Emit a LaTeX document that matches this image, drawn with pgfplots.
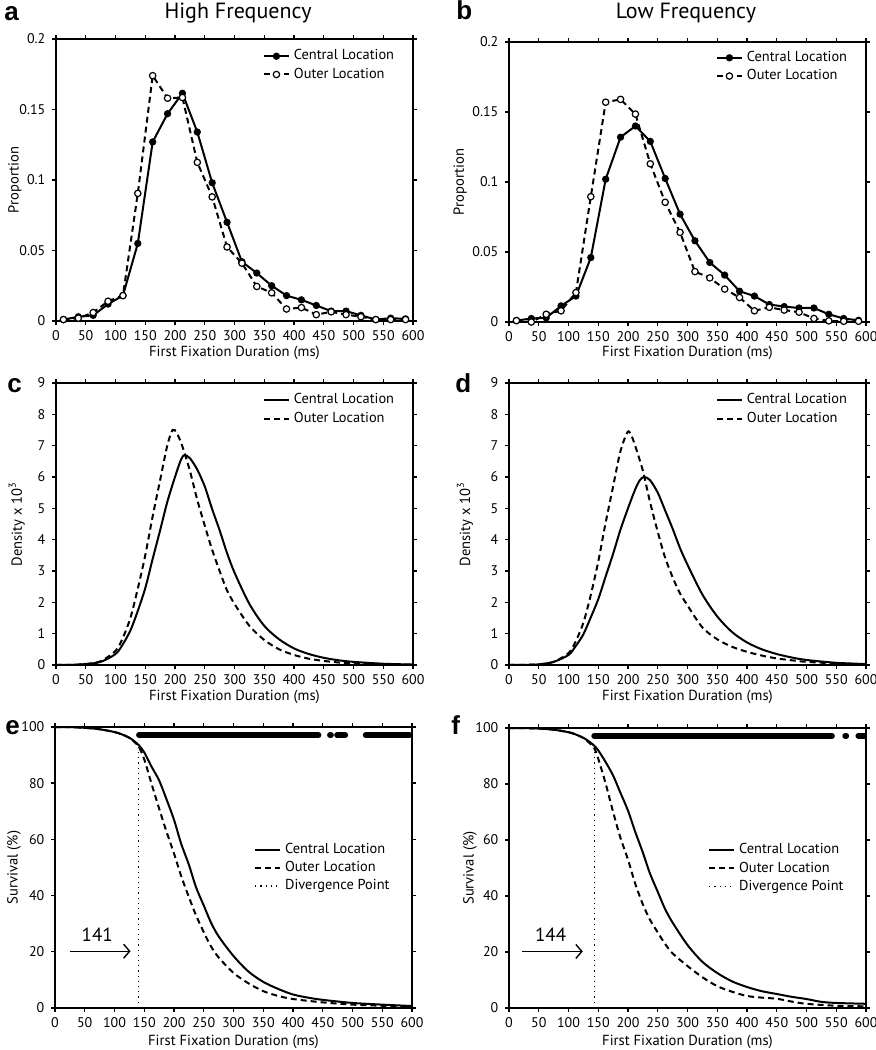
\documentclass[border=0pt]{standalone}
\usepackage{fontspec}
\setmainfont{PT Sans}
\newfontfamily\letterfont{Liberation Sans}
\usepackage{pgfplots}
\pgfplotsset{compat=1.18}
\usetikzlibrary{arrows.meta}

\pgfplotsset{
  panel/.style={
    scale only axis, width=178.5pt, height=141pt,
    xmin=0, xmax=600, xtick={0,50,...,600},
    axis line style={line width=0.9pt},
    tick style={line width=0.7pt, black},
    tick align=outside,
    major tick length=1.8pt,
    tick label style={font=\fontsize{7}{8}\selectfont},
    xticklabel style={yshift=0.5pt},
    label style={font=\fontsize{7.3}{8}\selectfont},
    /pgf/number format/assume math mode=true,
    xlabel={First Fixation Duration (ms)},
    xlabel style={at={(axis description cs:0.5,-0.112)}, anchor=center},
    legend cell align=left,
    legend style={draw=none, fill=none, font=\fontsize{7.2}{8}\selectfont,
      inner sep=1pt, row sep=-1.5pt},
  },
  cen/.style={black, line width=1pt},
  out/.style={black, line width=1pt, dash pattern=on 3pt off 2pt},
  sig/.style={black, line width=2.8pt, line cap=round, forget plot},
}
\tikzset{letter/.style={font=\fontsize{13}{15}\selectfont\letterfont\bfseries, anchor=base west, inner sep=0pt}}
\newcommand{\lineimg}{\pgfplotsset{legend image code/.code={\draw[##1] (0pt,0pt) -- (12.5pt,0pt);}}}
\newcommand{\markimg}{\pgfplotsset{legend image code/.code={\draw[mark repeat=2,mark phase=2,##1] plot coordinates {(0pt,0pt) (6.25pt,0pt) (12.5pt,0pt)};}}}

\begin{document}
\begin{tikzpicture}
\useasboundingbox (0,0) rectangle (438pt,525pt);

% panel letters and titles
\node[letter] at (2pt,514.5pt) {a};
\node[letter] at (228pt,515pt) {b};
\node[letter] at (3.5pt,328.5pt) {c};
\node[letter] at (227.5pt,328.5pt) {d};
\node[letter] at (2.5pt,157.5pt) {e};
\node[letter] at (225.5pt,157.5pt) {f};
\node[font=\fontsize{11}{12}\selectfont, anchor=base] at (119pt,515.5pt) {High Frequency};
\node[font=\fontsize{11}{12}\selectfont, anchor=base] at (343pt,515.5pt) {Low Frequency};

% ---------------- a ----------------
\begin{axis}[panel, at={(28pt,505.5pt)}, anchor=north west,
  ymin=0, ymax=0.2, ytick={0,0.05,0.1,0.15,0.2}, yticklabels={0,0.05,0.1,0.15,0.2},
  ylabel={Proportion}, ylabel style={at={(axis description cs:-0.115,0.5)}, anchor=center},
  legend style={at={(0.965,0.985)}, anchor=north east}]
\markimg
\addplot[cen, mark=*, mark size=1.3pt] coordinates {
(12.5,0.001)(37.5,0.003)(62.5,0.004)(87.5,0.012)(112.5,0.018)(137.5,0.055)(162.5,0.127)(187.5,0.147)(212.5,0.1615)(237.5,0.134)(262.5,0.098)(287.5,0.070)(312.5,0.042)(337.5,0.034)(362.5,0.025)(387.5,0.018)(412.5,0.015)(437.5,0.011)(462.5,0.007)(487.5,0.007)(512.5,0.004)(537.5,0.001)(562.5,0.002)(587.5,0.0015)};
\addlegendentry{Central Location}
\addplot[out, mark=*, mark size=1.6pt, mark options={solid, fill=white, draw=black, line width=0.6pt}] coordinates {
(12.5,0.001)(37.5,0.002)(62.5,0.006)(87.5,0.014)(112.5,0.018)(137.5,0.0905)(162.5,0.174)(187.5,0.158)(212.5,0.1585)(237.5,0.1125)(262.5,0.088)(287.5,0.0525)(312.5,0.041)(337.5,0.0245)(362.5,0.020)(387.5,0.0085)(412.5,0.0095)(437.5,0.0045)(462.5,0.0065)(487.5,0.0045)(512.5,0.003)(537.5,0.001)(562.5,0.001)(587.5,0.001)};
\addlegendentry{Outer Location}
\end{axis}

% ---------------- b ----------------
\begin{axis}[panel, at={(254.5pt,504pt)}, anchor=north west, height=140pt,
  ymin=0, ymax=0.2, ytick={0,0.05,0.1,0.15,0.2}, yticklabels={0,0.05,0.1,0.15,0.2},
  ylabel={Proportion}, ylabel style={at={(axis description cs:-0.137,0.5)}, anchor=center},
  legend style={at={(0.965,0.99)}, anchor=north east}]
\markimg
\addplot[cen, mark=*, mark size=1.3pt] coordinates {
(12.5,0.001)(37.5,0.0025)(62.5,0.003)(87.5,0.0115)(112.5,0.0185)(137.5,0.046)(162.5,0.102)(187.5,0.132)(212.5,0.140)(237.5,0.129)(262.5,0.1025)(287.5,0.077)(312.5,0.058)(337.5,0.0425)(362.5,0.0335)(387.5,0.022)(412.5,0.0185)(437.5,0.0125)(462.5,0.011)(487.5,0.010)(512.5,0.010)(537.5,0.0055)(562.5,0.0025)(587.5,0.0012)};
\addlegendentry{Central Location}
\addplot[out, mark=*, mark size=1.6pt, mark options={solid, fill=white, draw=black, line width=0.6pt}] coordinates {
(12.5,0.001)(37.5,0.0)(62.5,0.0055)(87.5,0.008)(112.5,0.021)(137.5,0.0895)(162.5,0.157)(187.5,0.159)(212.5,0.1485)(237.5,0.113)(262.5,0.0855)(287.5,0.064)(312.5,0.036)(337.5,0.0315)(362.5,0.0235)(387.5,0.0175)(412.5,0.008)(437.5,0.0105)(462.5,0.0085)(487.5,0.007)(512.5,0.0025)(537.5,0.0008)(562.5,0.0005)(587.5,0.0005)};
\addlegendentry{Outer Location}
\end{axis}

% ---------------- c ----------------
\begin{axis}[panel, at={(28pt,333.5pt)}, anchor=north west,
  ymin=0, ymax=9, ytick={0,1,...,9},
  ylabel={Density x 10\textsuperscript{3}}, ylabel style={at={(axis description cs:-0.11,0.5)}, anchor=center},
  legend style={at={(0.965,0.985)}, anchor=north east}]
\lineimg
\addplot[cen, smooth] coordinates {
(0,0)(25,0.005)(50,0.03)(75,0.10)(100,0.35)(112,0.65)(125,1.1)(137,1.7)(150,2.45)(162,3.35)(175,4.3)(187,5.2)(200,6.0)(210,6.55)(216,6.70)(225,6.6)(237,6.25)(250,5.7)(262,5.0)(275,4.3)(287,3.6)(300,2.95)(325,1.95)(350,1.25)(375,0.82)(400,0.53)(425,0.35)(450,0.23)(475,0.15)(500,0.10)(550,0.04)(600,0.015)};
\addlegendentry{Central Location}
\addplot[out, smooth] coordinates {
(0,0)(25,0.005)(50,0.03)(75,0.12)(100,0.45)(112,0.85)(125,1.5)(137,2.4)(150,3.5)(162,4.7)(175,5.9)(187,7.0)(196,7.5)(203,7.4)(212,7.0)(225,6.2)(237,5.3)(250,4.45)(262,3.7)(275,3.0)(287,2.4)(300,1.95)(325,1.25)(350,0.8)(375,0.5)(400,0.32)(425,0.2)(450,0.13)(475,0.08)(500,0.05)(550,0.02)(600,0.008)};
\addlegendentry{Outer Location}
\end{axis}

% ---------------- d ----------------
\begin{axis}[panel, at={(254.5pt,333.5pt)}, anchor=north west,
  ymin=0, ymax=9, ytick={0,1,...,9},
  ylabel={Density x 10\textsuperscript{3}}, ylabel style={at={(axis description cs:-0.123,0.5)}, anchor=center},
  legend style={at={(0.965,0.985)}, anchor=north east}]
\lineimg
\addplot[cen, smooth] coordinates {
(0,0)(25,0.005)(50,0.02)(75,0.1)(100,0.32)(112,0.6)(125,0.98)(137,1.5)(150,2.1)(162,2.8)(175,3.55)(187,4.3)(200,5.0)(212,5.6)(220,5.9)(227,6.0)(237,5.9)(250,5.5)(262,4.95)(275,4.35)(287,3.75)(300,3.2)(325,2.25)(350,1.55)(375,1.05)(400,0.72)(425,0.5)(450,0.35)(475,0.24)(500,0.16)(550,0.07)(600,0.03)};
\addlegendentry{Central Location}
\addplot[out, smooth] coordinates {
(0,0)(25,0.005)(50,0.02)(75,0.1)(100,0.38)(112,0.75)(125,1.35)(137,2.2)(150,3.3)(162,4.5)(175,5.7)(187,6.8)(199,7.43)(205,7.35)(212,7.0)(225,6.2)(237,5.2)(250,4.25)(262,3.45)(275,2.8)(287,2.3)(300,1.9)(325,1.2)(350,0.82)(375,0.58)(400,0.42)(425,0.3)(450,0.21)(475,0.15)(500,0.1)(550,0.05)(600,0.02)};
\addlegendentry{Outer Location}
\end{axis}

% ---------------- e ----------------
\begin{axis}[panel, at={(27.5pt,161.5pt)}, anchor=north west, height=140.5pt,
  ymin=0, ymax=100, ytick={0,20,...,100},
  xlabel style={at={(axis description cs:0.5,-0.12)}, anchor=center},
  ylabel={Survival (\%)}, ylabel style={at={(axis description cs:-0.115,0.5)}, anchor=center},
  legend style={at={(0.955,0.61)}, anchor=north east}]
\lineimg
\addplot[cen, smooth] coordinates {
(0,100)(25,99.95)(50,99.7)(75,99.2)(100,98.2)(112,97.4)(125,96.2)(137,94.3)(141,93.5)(150,91)(162,86)(175,81)(187,74.5)(200,67)(212,58.5)(225,51)(237,43)(250,36.5)(262,30.5)(275,25.5)(300,18.5)(325,13)(350,9.3)(375,6.8)(400,4.8)(425,3.7)(450,2.9)(500,1.8)(550,1.2)(600,0.7)};
\addlegendentry{Central Location}
\addplot[out, smooth] coordinates {
(0,100)(25,99.95)(50,99.7)(75,99.2)(100,98.2)(112,97.4)(125,96.1)(137,94)(141,93)(150,88.5)(162,80)(175,71)(187,63)(200,55)(212,47)(225,39.5)(237,33)(250,27)(262,22)(275,18)(300,12.5)(325,8.8)(350,6)(375,4.3)(400,3.2)(450,2)(500,1.2)(550,0.8)(600,0.4)};
\addlegendentry{Outer Location}
\addplot[black, line width=0.6pt, dotted] coordinates {(141,0)(141,93.5)};
\addlegendentry{Divergence Point}
\addplot[sig] coordinates {(141,97.1)(443,97.1)};
\addplot[sig] coordinates {(462,97.1)(464,97.1)};
\addplot[sig] coordinates {(474,97.1)(488,97.1)};
\addplot[sig] coordinates {(522,97.1)(596,97.1)};
\draw[line width=0.7pt, -{Straight Barb[length=3pt,width=7pt]}] (axis cs:26,20.2) -- (axis cs:127,20.2);
\node[font=\fontsize{9.5}{11}\selectfont] at (axis cs:71,26) {141};
\end{axis}

% ---------------- f ----------------
\begin{axis}[panel, at={(254.5pt,161pt)}, anchor=north west, height=140pt,
  ymin=0, ymax=100, ytick={0,20,...,100},
  xlabel style={at={(axis description cs:0.5,-0.12)}, anchor=center},
  ylabel={Survival (\%)}, ylabel style={at={(axis description cs:-0.109,0.5)}, anchor=center},
  legend style={at={(0.955,0.61)}, anchor=north east}]
\lineimg
\addplot[cen, smooth] coordinates {
(0,100)(25,99.95)(50,99.8)(75,99.4)(100,98.5)(112,97.7)(125,96.5)(137,94.8)(144,93.5)(150,92)(162,88)(175,83)(187,77)(200,70.5)(212,63)(225,55.5)(237,48)(250,41.5)(262,35.5)(275,30.5)(300,22.5)(325,16.5)(350,12.5)(375,9.5)(400,7.5)(425,6)(450,5)(475,4)(500,3.2)(525,2.2)(550,1.8)(600,1.5)};
\addlegendentry{Central Location}
\addplot[out, smooth] coordinates {
(0,100)(25,99.95)(50,99.8)(75,99.4)(100,98.5)(112,97.7)(125,96.4)(137,94.3)(144,92.5)(150,89)(162,80.5)(175,70)(187,61)(200,53)(212,44.5)(225,37)(237,31.5)(250,27)(262,23)(275,19.5)(300,15)(325,11)(350,7.8)(375,5.8)(400,4.3)(425,3.7)(450,3.3)(475,2.3)(500,1.5)(550,0.8)(600,0.6)};
\addlegendentry{Outer Location}
\addplot[black, line width=0.6pt, dotted] coordinates {(144,0)(144,94)};
\addlegendentry{Divergence Point}
\addplot[sig] coordinates {(143,97.2)(543,97.2)};
\addplot[sig] coordinates {(565,97.2)(567,97.2)};
\addplot[sig] coordinates {(587,97.2)(599,97.2)};
\draw[line width=0.7pt, -{Straight Barb[length=3pt,width=7pt]}] (axis cs:22,20.2) -- (axis cs:124,20.2);
\node[font=\fontsize{9.5}{11}\selectfont] at (axis cs:70,26) {144};
\end{axis}
\end{tikzpicture}
\end{document}
